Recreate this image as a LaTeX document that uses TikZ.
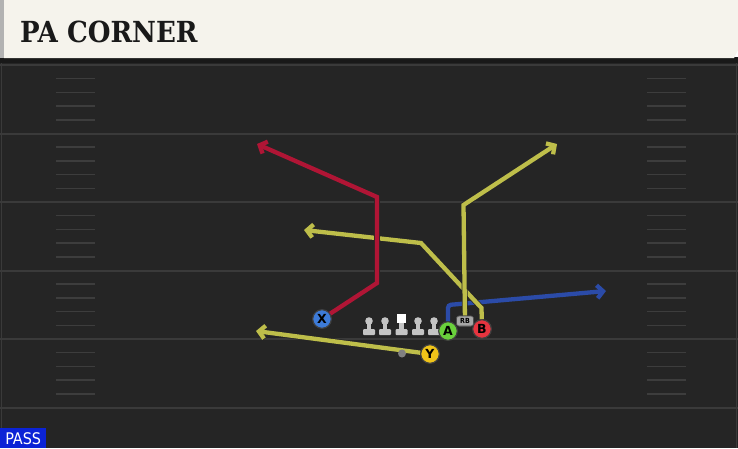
\documentclass[tikz,border=0pt]{standalone}
\usepackage{fontspec}
\setmainfont{DejaVu Sans}
\newfontfamily\titlefont{DejaVu Serif Condensed}
\newfontfamily\tagfont{DejaVu Sans Condensed}
\usetikzlibrary{arrows.meta}

\definecolor{fieldgray}{HTML}{252525}
\definecolor{yardgray}{HTML}{3A3A3A}
\definecolor{hashgray}{HTML}{3D3D3D}
\definecolor{headcream}{HTML}{F5F3EC}
\definecolor{redroute}{HTML}{B01535}
\definecolor{yellowroute}{HTML}{BEBE4A}
\definecolor{blueroute}{HTML}{2B4BA8}
\definecolor{xblue}{HTML}{3D7BD9}
\definecolor{yyellow}{HTML}{F0C419}
\definecolor{agreen}{HTML}{6AD13C}
\definecolor{bred}{HTML}{E6343F}
\definecolor{linegray}{HTML}{C4C4C4}
\definecolor{passblue}{HTML}{0B23D6}

\tikzset{
  player/.style={circle,draw=black!75,line width=1pt,fill=#1,minimum size=18.5pt,
    inner sep=0pt,font=\bfseries\fontsize{12.5}{12.5}\selectfont},
  route/.style={draw=#1,line width=4.3pt,line join=miter,
    preaction={draw=black!85,line width=5.8pt},
    -{Straight Barb[length=6pt,width=13pt]}},
  rbtag/.style={rounded corners=2.5pt,fill=black!35,draw=black!70,line width=0.6pt,
    minimum width=17pt,minimum height=10pt,inner sep=0pt,
    font=\tagfont\bfseries\fontsize{7}{7}\selectfont}
}

\begin{document}
\begin{tikzpicture}[x=1pt,y=-1pt]
  \useasboundingbox (0,0) rectangle (738,448);
  % field
  \fill[fieldgray] (0,58) rectangle (738,448);
  \draw[yardgray,line width=1pt] (1.5,63) -- (1.5,448) (736.5,63) -- (736.5,448);
  \foreach \yl in {65,133.5,202,270.5,339,407.5}
    \draw[yardgray,line width=2pt] (0,\yl) -- (738,\yl);
  \foreach \yl in {65,133.5,202,270.5,339}
    \foreach \k in {1,2,3,4} {
      \draw[hashgray,line width=1.5pt] (56,\yl+\k*13.7) -- (95,\yl+\k*13.7);
      \draw[hashgray,line width=1.5pt] (647,\yl+\k*13.7) -- (686,\yl+\k*13.7);
    }
  % header
  \fill[black!90] (0,57) rectangle (738,63);
  \fill[headcream] (4,0) -- (738,0) -- (738,50) -- (734,58) -- (4,58) -- cycle;
  \fill[black!30] (0,0) rectangle (4,58);
  \node[anchor=base west,inner sep=0pt,font=\titlefont\bfseries\fontsize{29}{29}\selectfont,text=black!90]
    (title) at (20,42) {PA CORNER};
  % pass tag
  \node[fill=passblue,text=white,anchor=south west,minimum width=46pt,minimum height=20pt,
    inner sep=0pt,font=\tagfont\fontsize{16}{16}\selectfont] (pass) at (0,448.5) {PASS};

  % line
  \foreach \lx in {369,385,418,434} {
    \fill[linegray] (\lx,321) circle (3.8);
    \fill[linegray] (\lx-2.2,321) rectangle (\lx+2.2,331);
    \fill[linegray,rounded corners=1pt] (\lx-6,329) rectangle (\lx+6,335);
  }
  \fill[linegray] (399.3,321) rectangle (403.7,331);
  \fill[linegray,rounded corners=1pt] (395.5,329) rectangle (407.5,335);
  \fill[white] (397,314) rectangle (406,323);

  % players
  \node[player=xblue] (X) at (322,319) {X};
  \node[player=yyellow] (Y) at (430,354) {Y};
  \node[player=agreen] (A) at (448,331) {A};
  \node[player=bred] (B) at (482,329) {B};
  \node[rbtag] (RB) at (465,321) {RB};

  % route points
  \coordinate (x1) at (377,283);
  \coordinate (x2) at (377,197);
  \coordinate (x3) at (257,144);
  \coordinate (y1) at (256,331);
  \coordinate (a1) at (448,305);
  \coordinate (a2) at (606,291);
  \coordinate (r1) at (463.5,205);
  \coordinate (r2) at (557,144);
  \coordinate (b1) at (481.5,308);
  \coordinate (b2) at (421,243);
  \coordinate (b3) at (304,230);

  % routes
  \draw[route=blueroute,rounded corners=3pt] (A) -- (a1) -- (a2);
  \draw[route=yellowroute] (Y) -- (y1);
  \draw[route=yellowroute] (B) -- (b1) -- (b2) -- (b3);
  \draw[route=yellowroute] (RB) -- (r1) -- (r2);
  \draw[route=redroute] (X) -- (x1) -- (x2) -- (x3);
  \fill[black!50] (402,353.5) circle (4);

  % redraw players over routes
  \node[player=xblue] at (X) {X};
  \node[player=yyellow] at (Y) {Y};
  \node[player=agreen] at (A) {A};
  \node[player=bred] at (B) {B};
  \node[rbtag] at (RB) {RB};
\end{tikzpicture}
\end{document}
